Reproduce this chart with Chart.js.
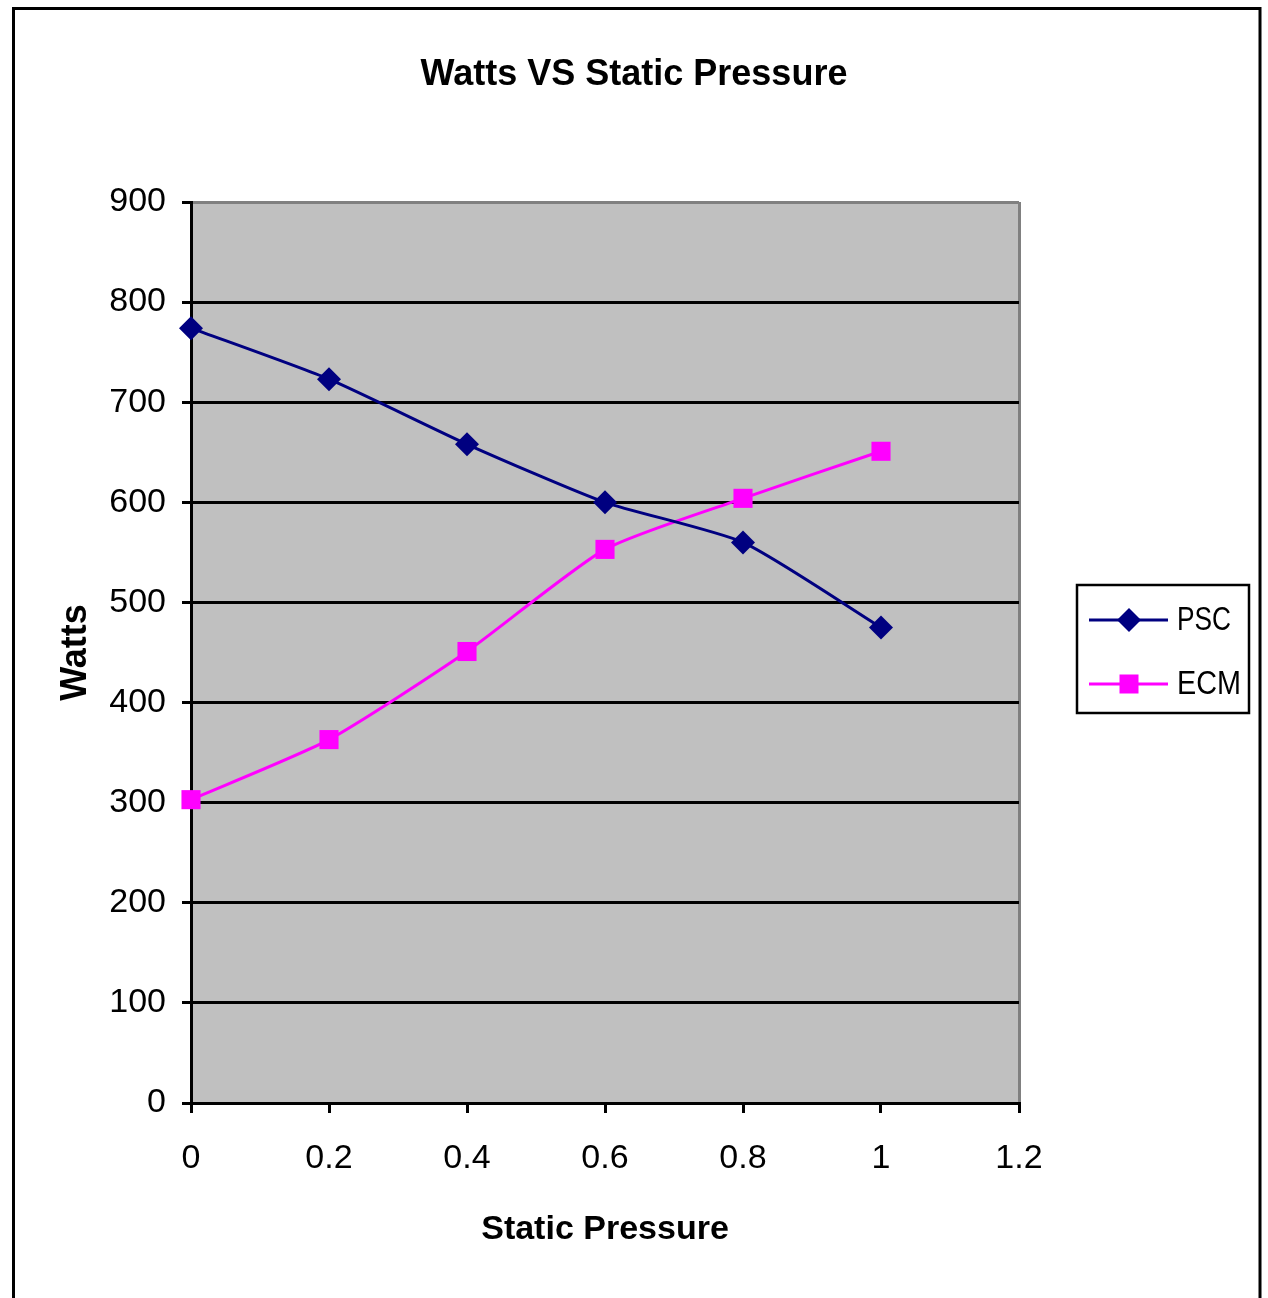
<!DOCTYPE html>
<html>
<head>
<meta charset="utf-8">
<title>Watts VS Static Pressure</title>
<script src="https://cdn.jsdelivr.net/npm/chart.js@4/dist/chart.umd.min.js"></script>
<style>
  html, body { margin: 0; padding: 0; background: #ffffff; }
  canvas { display: block; }
</style>
</head>
<body>
<canvas id="chart" width="1268" height="1298"></canvas>
<script>
// Static pressure (in. w.c.) at each measurement
const pressure = [0, 0.2, 0.4, 0.6, 0.8, 1.0];
// Measured blower power draw, watts
const pscWatts = [774, 723, 658, 600, 560, 475];
const ecmWatts = [303, 363, 451, 553, 604, 651];
const seriesNames = ['PSC', 'ECM'];
const seriesColors = ['#000080', '#FF00FF'];

const plainFont = "'Liberation Sans', Arial, sans-serif";

const toPoints = (ys) => ys.map((y, i) => ({ x: pressure[i], y }));
const near = (a, b) => Math.abs(a - b) < 1e-9;

// Grey plot area and white page, drawn before everything else
const plotBackground = {
  id: 'plotBackground',
  beforeDraw(chart) {
    const { ctx, chartArea: a } = chart;
    ctx.save();
    ctx.fillStyle = '#ffffff';
    ctx.fillRect(0, 0, chart.width, chart.height);
    ctx.fillStyle = '#C0C0C0';
    ctx.fillRect(a.left, a.top, a.right - a.left, a.bottom - a.top);
    ctx.restore();
  }
};

// Frame around the whole chart plus the boxed legend on the right
const frameAndLegend = {
  id: 'frameAndLegend',
  afterDraw(chart) {
    const { ctx } = chart;
    ctx.save();
    ctx.strokeStyle = '#000000';
    ctx.lineWidth = 3;
    ctx.strokeRect(13.5, 8.5, 1246.5, 1400);

    // legend box
    const bx = 1077, by = 585, bw = 172, bh = 128;
    ctx.fillStyle = '#ffffff';
    ctx.fillRect(bx, by, bw, bh);
    ctx.lineWidth = 2.5;
    ctx.strokeRect(bx, by, bw, bh);

    const rows = [620, 684];
    const textWidths = [54, 64];
    chart.data.datasets.forEach((ds, i) => {
      const y = rows[i];
      ctx.strokeStyle = ds.borderColor;
      ctx.lineWidth = 3;
      ctx.beginPath();
      ctx.moveTo(1089, y);
      ctx.lineTo(1168, y);
      ctx.stroke();
      ctx.fillStyle = ds.backgroundColor;
      const cx = 1129;
      if (ds.pointStyle === 'rectRot') {
        const r = 12;
        ctx.beginPath();
        ctx.moveTo(cx - r, y);
        ctx.lineTo(cx, y - r);
        ctx.lineTo(cx + r, y);
        ctx.lineTo(cx, y + r);
        ctx.closePath();
        ctx.fill();
      } else {
        const s = 19;
        ctx.fillRect(cx - s / 2, y - s / 2, s, s);
      }
      ctx.fillStyle = '#000000';
      ctx.font = `34px ${plainFont}`;
      ctx.textAlign = 'left';
      ctx.textBaseline = 'middle';
      ctx.fillText(ds.label, 1177, y + 1, textWidths[i]);
    });
    ctx.restore();
  }
};

new Chart(document.getElementById('chart'), {
  type: 'line',
  data: {
    datasets: [
      {
        label: seriesNames[0],
        data: toPoints(pscWatts),
        borderColor: seriesColors[0],
        backgroundColor: seriesColors[0],
        borderWidth: 3,
        pointStyle: 'rectRot',
        pointRadius: 12,
        pointBorderWidth: 0,
        tension: 0.2,
        clip: false
      },
      {
        label: seriesNames[1],
        data: toPoints(ecmWatts),
        borderColor: seriesColors[1],
        backgroundColor: seriesColors[1],
        borderWidth: 3,
        pointStyle: 'rect',
        pointRadius: 13.5,
        pointBorderWidth: 0,
        tension: 0.2,
        clip: false
      }
    ]
  },
  options: {
    responsive: false,
    devicePixelRatio: 1,
    animation: false,
    events: [],
    layout: { padding: 0 },
    plugins: {
      legend: { display: false },
      tooltip: { enabled: false },
      title: {
        display: true,
        text: 'Watts VS Static Pressure',
        color: '#000000',
        font: { family: plainFont, size: 36, weight: 'bold', lineHeight: 1.2 },
        padding: { top: 53, bottom: 105.8 }
      }
    },
    scales: {
      x: {
        type: 'linear',
        min: 0,
        max: 1.2,
        ticks: {
          stepSize: 0.2,
          color: '#000000',
          padding: 25,
          maxRotation: 0,
          font: { family: plainFont, size: 34 },
          callback: (v) => String(Number(v.toFixed(2)))
        },
        grid: {
          drawOnChartArea: true,
          color: (c) => (c.tick && near(c.tick.value, 1.2)) ? '#808080' : 'rgba(0,0,0,0)',
          tickColor: '#000000',
          tickLength: 10,
          lineWidth: 3
        },
        border: { display: true, color: '#000000', width: 3 },
        title: {
          display: true,
          text: 'Static Pressure',
          color: '#000000',
          font: { family: plainFont, size: 34, weight: 'bold', lineHeight: 1.2 },
          padding: { top: 0, bottom: 48 }
        },
        afterFit(scale) { scale.height = 195; }
      },
      y: {
        min: 0,
        max: 900,
        ticks: {
          stepSize: 100,
          color: '#000000',
          padding: 16,
          font: { family: plainFont, size: 34 }
        },
        grid: {
          color: (c) => (c.tick && c.tick.value === 900) ? '#808080' : '#000000',
          tickColor: '#000000',
          tickLength: 9,
          lineWidth: 3
        },
        border: { display: true, color: '#000000', width: 3 },
        title: {
          display: true,
          text: 'Watts',
          color: '#000000',
          font: { family: plainFont, size: 36, weight: 'bold', lineHeight: 1.2 },
          padding: { top: 54, bottom: 0 }
        },
        afterFit(scale) { scale.width = 191; }
      },
      // empty right-hand axis that keeps room for the legend box
      side: {
        position: 'right',
        display: true,
        ticks: { display: false },
        grid: { display: false, drawTicks: false },
        border: { display: false },
        afterFit(scale) { scale.width = 249; }
      }
    }
  },
  plugins: [plotBackground, frameAndLegend]
});
</script>
</body>
</html>
